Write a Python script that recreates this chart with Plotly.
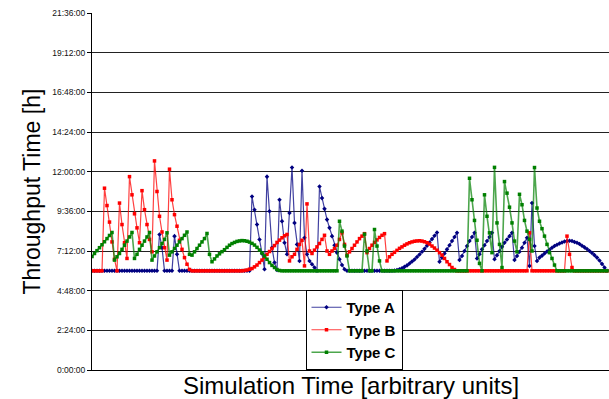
import plotly.graph_objects as go

# Throughput time in hours, one value per simulation time step (arbitrary units)
type_a = [
    6, 6, 6, 6, 6, 6, 6, 6, 6, 6,
    6, 6, 6, 6, 6, 6, 6, 6, 6, 6,
    6, 6, 6, 6, 6, 6, 6, 8.2, 7.4, 6,
    6, 6, 6, 8.1, 7.0, 6, 6, 6, 6, 6,
    6, 6, 6, 6, 6, 6, 6, 6, 6, 6,
    6, 6, 6, 6, 6, 6, 6, 6, 6, 6,
    6, 6, 6, 6, 10.5, 9.7, 8.8, 7.9, 7.05, 6.1,
    11.7, 9.6, 7.4, 6.5, 6.05, 10.3, 9.0, 7.7, 7.0, 9.5,
    12.25, 8.9, 7.6, 6.6, 12.05, 8.0, 7.0, 6.6, 6.4, 6.2,
    6.0, 11.1, 10.4, 9.75, 9.1, 8.6, 8.1, 7.55, 7.1, 6.7,
    6.35, 6.1, 6, 6, 6, 6, 6, 6, 6, 6,
    6, 6, 6, 6, 6, 6, 6, 6, 6, 6,
    6.0, 6.02, 6.05, 6.1, 6.16, 6.24, 6.33, 6.44, 6.56, 6.69,
    6.84, 6.99, 7.15, 7.33, 7.52, 7.72, 7.92, 8.12, 8.32, 6.55,
    6.8, 7.05, 7.3, 7.55, 7.8, 8.05, 8.3, 6.65, 6.9, 7.2,
    7.5, 7.8, 8.05, 8.3, 6.75, 7.0, 7.3, 7.55, 7.8, 8.05,
    8.3, 6.7, 6.95, 7.2, 7.45, 7.7, 7.9, 8.1, 8.3, 6.65,
    6.9, 7.15, 7.4, 7.7, 8.0, 6.3, 10.1, 7.5, 6.6, 6.8,
    6.92, 7.05, 7.17, 7.28, 7.4, 7.5, 7.58, 7.65, 7.72, 7.78,
    7.8, 7.82, 7.8, 7.75, 7.7, 7.62, 7.52, 7.42, 7.32, 7.2,
    7.08, 6.95, 6.8, 6.62, 6.42, 6.2, 6.0,
]

type_b = [
    6, 6, 6, 6, 6, 11.0, 9.95, 8.95, 7.75, 6.7,
    6.0, 10.1, 8.8, 7.7, 6.75, 11.7, 10.6, 9.45, 8.6, 7.7,
    10.85, 9.7, 8.8, 7.9, 7.15, 12.65, 10.8, 9.3, 8.35, 7.4,
    6.65, 12.15, 10.3, 9.4, 8.7, 7.85, 7.3, 6.8, 6.4, 6.08,
    6, 6, 6, 6, 6, 6, 6, 6, 6, 6,
    6, 6, 6, 6, 6, 6, 6, 6, 6, 6,
    6.0, 6.02, 6.05, 6.1, 6.14, 6.24, 6.35, 6.5, 6.65, 6.82,
    7.0, 7.17, 7.35, 7.53, 7.72, 7.86, 8.0, 8.12, 8.2, 6.6,
    6.85, 7.0, 7.3, 7.6, 7.85, 6.3, 10.05, 7.2, 7.05, 7.25,
    7.45, 7.65, 7.9, 8.15, 7.2, 7.0, 7.2, 7.35, 7.55, 7.9,
    8.3, 7.6, 6.95, 7.15, 7.35, 7.55, 7.75, 7.95, 8.1, 8.25,
    7.1, 7.35, 7.55, 7.72, 7.87, 8.02, 8.15, 8.25, 6.6, 6.85,
    7.0, 7.12, 7.24, 7.36, 7.45, 7.55, 7.63, 7.7, 7.75, 7.79,
    7.81, 7.82, 7.8, 7.76, 7.7, 7.62, 7.5, 7.38, 7.25, 7.1,
    6.95, 6.75, 6.55, 6.38, 6.2, 6.08, 6.0, 6, 6, 6,
    6, 6, 6, 6, 6, 6, 6, 6, 6, 6,
    6, 6, 6, 6, 6, 6, 6, 6, 6, 6,
    6, 6, 6, 6, 6, 8.3, 6.0, 6, 6, 6,
    6, 6, 6, 6, 6, 6, 6, 6, 6, 6,
    8.1, 7.0, 6.2, 6, 6, 6, 6, 6, 6, 6,
    6, 6, 6, 6, 6, 6, 6,
]

type_c = [
    6.86, 7.05, 7.22, 7.4, 7.58, 7.76, 7.95, 8.14, 8.32, 6.65,
    6.85, 7.05, 7.3, 7.55, 7.8, 8.05, 8.32, 6.75, 7.0, 7.3,
    7.55, 7.8, 8.05, 8.32, 6.65, 6.9, 7.15, 7.4, 7.65, 7.9,
    8.3, 6.95, 7.15, 7.35, 7.55, 7.75, 7.95, 8.15, 8.35, 7.0,
    6.95, 7.15, 7.35, 7.55, 7.75, 7.95, 8.26, 7.0, 6.55, 6.72,
    6.9, 7.03, 7.16, 7.28, 7.42, 7.55, 7.65, 7.72, 7.78, 7.81,
    7.83, 7.82, 7.79, 7.74, 7.66, 7.56, 7.42, 7.26, 7.08, 6.9,
    6.7, 6.5, 6.33, 6.2, 6.08, 6.02, 6.0, 6, 6, 6,
    6, 6, 6, 6, 6, 6, 6, 6, 6, 6,
    6, 6, 6, 6, 6, 6, 6, 6, 6, 9.0,
    8.4, 7.5, 6.9, 6.0, 6, 6, 6, 6, 6, 8.22,
    7.2, 6.0, 6.0, 8.5, 7.5, 6.6, 6.0, 6, 6, 6,
    6, 6, 6, 6, 6, 6, 6, 6, 6, 6,
    6, 6, 6, 6, 6, 6, 6, 6, 6, 6,
    6, 6, 6, 6, 6, 6, 6, 6, 6, 6,
    6.0, 11.6, 10.3, 9.05, 7.85, 6.45, 6.0, 10.6, 9.3, 8.3,
    7.1, 12.26, 8.9, 7.6, 6.2, 11.4, 10.7, 9.85, 8.9, 7.8,
    7.15, 10.63, 10.0, 9.05, 8.4, 7.9, 7.2, 12.25, 9.8, 9.0,
    8.55, 8.1, 7.6, 7.1, 6.75, 6.35, 6.0, 6, 6, 6,
    6, 6, 6, 6, 6, 6, 6, 6, 6, 6,
    6, 6, 6, 6, 6, 6, 6,
]

series_names = ["Type A", "Type B", "Type C"]
y_tick_values = [0, 2.4, 4.8, 7.2, 9.6, 12.0, 14.4, 16.8, 19.2, 21.6]
y_tick_labels = ["0:00:00", "2:24:00", "4:48:00", "7:12:00", "9:36:00",
                 "12:00:00", "14:24:00", "16:48:00", "19:12:00", "21:36:00"]

FONT = "Liberation Sans, Arial, sans-serif"

W, H = 609, 399
PLOT_L, PLOT_R, PLOT_T, PLOT_B = 92, 609, 13, 370
PLOT_W, PLOT_H = PLOT_R - PLOT_L, PLOT_B - PLOT_T


def px_to_paper_x(px):
    return (px - PLOT_L) / PLOT_W


def px_to_paper_y(py):
    return (PLOT_B - py) / PLOT_H


styles = [
    dict(line=dict(color="rgba(0,0,128,0.75)", width=1.2),
         marker=dict(color="#000080", size=3.5, symbol="diamond")),
    dict(line=dict(color="rgba(255,0,0,0.75)", width=1.2),
         marker=dict(color="#FF0000", size=3.5, symbol="square")),
    dict(line=dict(color="rgba(0,128,0,0.7)", width=1.6),
         marker=dict(color="#008000", size=3.5, symbol="square")),
]

fig = go.Figure()
for name, vals, st in zip(series_names, [type_a, type_b, type_c], styles):
    fig.add_trace(go.Scatter(
        x=list(range(len(vals))), y=vals, name=name, mode="lines+markers",
        line=st["line"], marker=st["marker"],
    ))

fig.update_layout(
    width=W, height=H,
    margin=dict(l=PLOT_L, r=W - PLOT_R, t=PLOT_T, b=H - PLOT_B, pad=0),
    paper_bgcolor="white", plot_bgcolor="white",
    font=dict(family=FONT, color="black"),
    showlegend=True,
    legend=dict(
        x=px_to_paper_x(354), y=px_to_paper_y(330),
        xanchor="center", yanchor="middle",
        bgcolor="white", bordercolor="black", borderwidth=1,
        font=dict(family=FONT, size=15, color="black", weight="bold"),
        itemwidth=30, tracegroupgap=0,
    ),
    xaxis=dict(
        range=[0, 206.8], showgrid=False, zeroline=False,
        showticklabels=False, ticks="",
        showline=True, linecolor="black", linewidth=1,
    ),
    yaxis=dict(
        range=[0, 21.6001], tickvals=y_tick_values, ticktext=y_tick_labels,
        showgrid=True, gridcolor="#222222", gridwidth=1, zeroline=False,
        showline=True, linecolor="black", linewidth=1,
        ticks="outside", ticklen=4, tickcolor="black",
        tickfont=dict(family=FONT, size=8.5, color="#111111"),
    ),
    annotations=[
        dict(text="Throughput Time [h]", xref="paper", yref="paper",
             x=px_to_paper_x(31), y=0.5, xanchor="center", yanchor="middle",
             textangle=-90, showarrow=False,
             font=dict(family=FONT, size=23, color="black")),
        dict(text="Simulation Time [arbitrary units]", xref="paper", yref="paper",
             x=0.5, y=px_to_paper_y(385), xanchor="center", yanchor="middle",
             showarrow=False,
             font=dict(family=FONT, size=24, color="black")),
    ],
)

# remove the browser's default 8px body margin so the figure sits at the window origin
fig.write_html(
    "out.html",
    config={"displayModeBar": False},
    post_script="document.body.style.margin='0';document.body.style.overflow='hidden';",
)
